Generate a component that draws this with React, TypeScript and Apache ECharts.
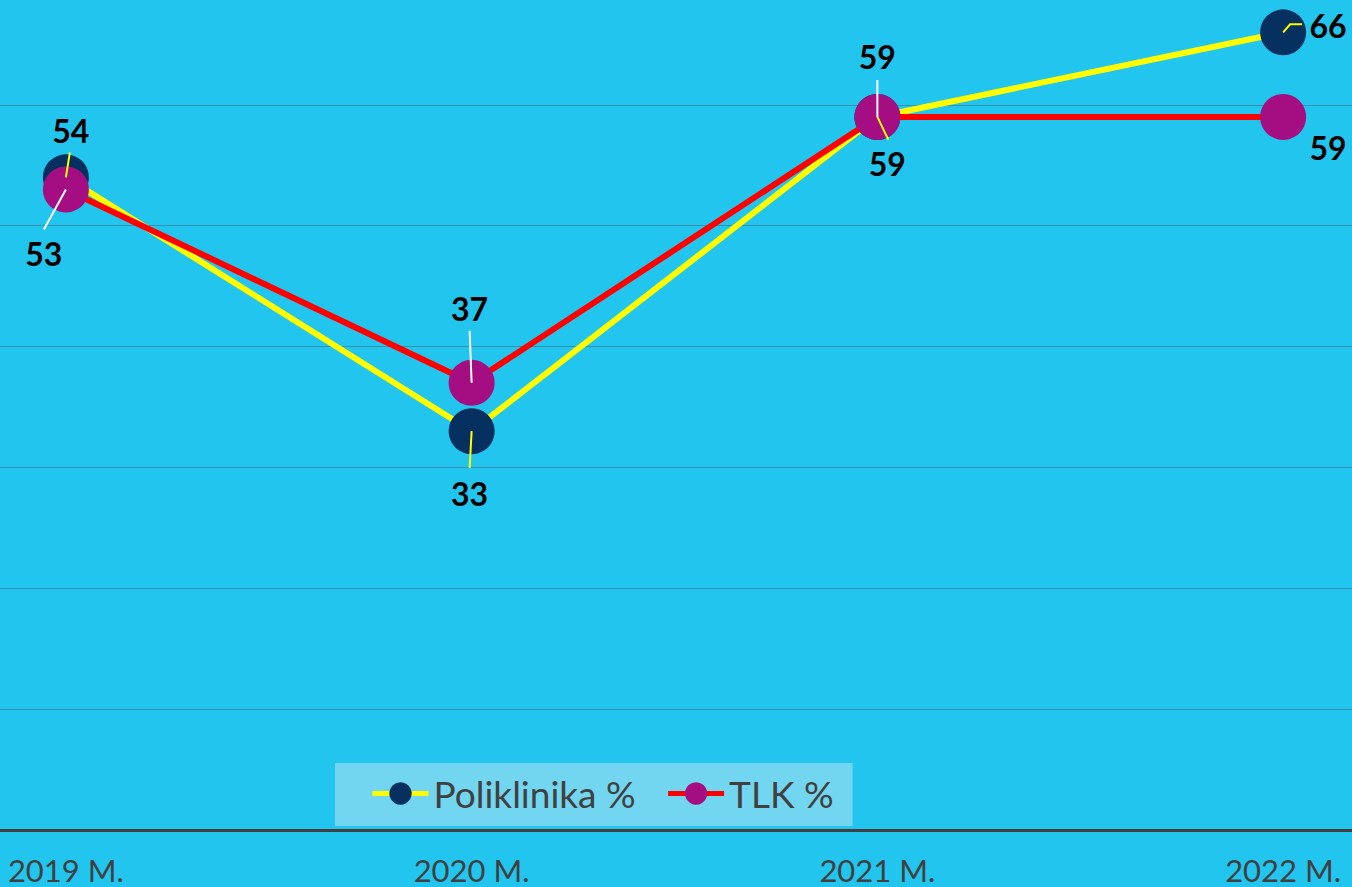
import React, { useEffect, useRef } from "react";
import * as echarts from "echarts";

const years = ["2019 M.", "2020 M.", "2021 M.", "2022 M."];
const poliklinika = [54, 33, 59, 66];
const tlk = [53, 37, 59, 59];

// label placement (pixel offsets from each point's centre)
const polLabelOffset = [[5, -47], [-2, 62], [10, 47], [45, -7]];
const tlkLabelOffset = [[-22, 64], [-2, -74], [0, -60], [45, 31]];
// leader-line bends (pixel offsets from each point's centre)
const polLeader = [[[4, -25]], [[-2, 37]], [[11, 23]], [[7, -8], [19, -8]]];
const tlkLeader = [[[-22, 40]], [[-2, -52]], [[0, -37]], []];

const labelFont = { fontFamily: "Lato", fontWeight: "bold" as const, fontSize: 32, color: "#000" };

function leaderSeries(values: number[], offs: number[][][], color: string) {
  return {
    type: "custom",
    name: "leader",
    z: 10,
    silent: true,
    clip: false,
    data: values.map((v, i) => [i, v]),
    renderItem: (params: any, api: any) => {
      const o = offs[params.dataIndex];
      if (!o || o.length === 0) return { type: "group", children: [] };
      const p = api.coord([api.value(0), api.value(1)]);
      const pts = [p, ...o.map((d) => [p[0] + d[0], p[1] + d[1]])];
      return {
        type: "polyline",
        shape: { points: pts },
        style: { stroke: color, lineWidth: 2, fill: null },
      };
    },
  };
}

export default function App() {
  const ref = useRef<HTMLDivElement>(null);
  useEffect(() => {
    document.body.style.margin = "0";
    const chart = echarts.init(ref.current!, undefined, { renderer: "svg" });
    chart.setOption({
      animation: false,
      backgroundColor: "#22C5EE",
      grid: { left: -137, right: -134, top: -16, bottom: 57, outerBoundsMode: "none", containLabel: false },
      xAxis: {
        type: "category",
        data: years,
        boundaryGap: true,
        axisLine: { lineStyle: { color: "#404040", width: 3 } },
        axisTick: { show: false },
        axisLabel: { color: "#404040", fontSize: 31, fontFamily: "Lato", margin: 24 },
      },
      yAxis: {
        type: "value",
        min: 0,
        max: 70,
        interval: 10,
        axisLine: { show: false },
        axisTick: { show: false },
        axisLabel: { show: false },
        splitLine: { lineStyle: { color: "#3790AD", width: 1 } },
      },
      legend: {
        data: ["Poliklinika %", "TLK %"],
        left: 335,
        top: 763,
        padding: [12, 19, 14, 35],
        backgroundColor: "#72D6F0",
        itemWidth: 56,
        itemHeight: 28,
        itemGap: 30,
        lineStyle: { width: 5 },
        textStyle: { color: "#404040", fontSize: 37, fontFamily: "Lato" },
      },
      series: [
        {
          type: "line",
          name: "Poliklinika %",
          data: poliklinika.map((v, i) => ({
            value: v,
            label: { offset: polLabelOffset[i] },
          })),
          symbol: "circle",
          symbolSize: 46,
          lineStyle: { color: "#FFFF00", width: 6 },
          itemStyle: { color: "#06305F" },
          label: { show: true, position: "inside", ...labelFont },
          z: 2,
        },
        {
          type: "line",
          name: "TLK %",
          data: tlk.map((v, i) => ({
            value: v,
            label: { offset: tlkLabelOffset[i] },
          })),
          symbol: "circle",
          symbolSize: 46,
          lineStyle: { color: "#FF0000", width: 6 },
          itemStyle: { color: "#A50E82" },
          label: { show: true, position: "inside", ...labelFont },
          z: 3,
        },
        leaderSeries(poliklinika, polLeader, "#FFFF00"),
        leaderSeries(tlk, tlkLeader, "#FFFFFF"),
      ],
    });
    return () => chart.dispose();
  }, []);
  return <div ref={ref} style={{ position: "absolute", left: 0, top: 0, width: 1352, height: 887 }} />;
}
